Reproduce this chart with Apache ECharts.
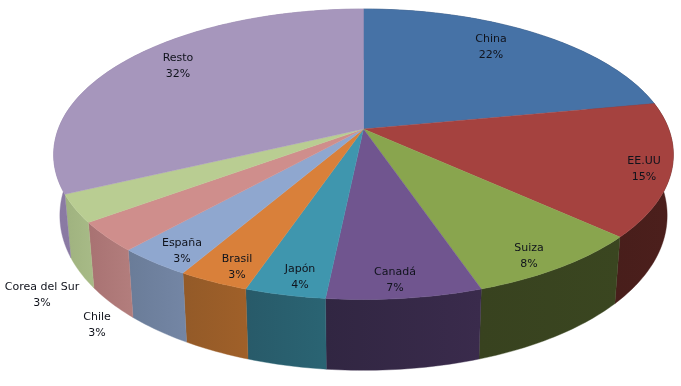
<!DOCTYPE html>
<html><head><meta charset="utf-8">
<style>html,body{margin:0;padding:0;background:#fff}#c{width:681px;height:386px}</style>
<script src="https://cdn.jsdelivr.net/npm/echarts@6/dist/echarts.min.js"></script>
</head><body><div id="c"></div>
<script>
const categories = ['China','EE.UU','Suiza','Canadá','Japón','Brasil','España','Chile','Corea del Sur','Resto'];
const shares = [22.0,14.9,8.0,6.7,3.5,3.1,3.3,3.3,3.1,32.1];

// styling (Excel 3D pie look)
const topColors = ['#4672a6','#a5423f','#89a54e','#70558f','#3f96ae','#d9803a','#8fa7cf','#cf8e8c','#b9cd92','#a696bc'];
const wallColors = [
  ['#2a4465','#2a4465'],['#4c1f1c','#481e1b'],['#3a4620','#38421f'],['#3a2b4c','#312642'],
  ['#2a6473','#285a69'],['#a06029','#935a28'],['#7486a5','#6a7c98'],['#b37e7d','#a87272'],
  ['#a8bb87','#9fb27f'],['#8e7fa6','#8a7aa3']
];
// label centre positions within the 681x386 picture
const labelSpots = [[491,47],[644,169],[529,256],[395,280],[300,277],[237,267],[182,251],[97,325],[42,295],[178,66]];

// projection of the tilted disc
const CX=363.5, CY=129, RX=305.2, RY=140, PERSP=1/6, DEPTH=59, SHRINK=0.98, FULL_X=0.035, FULL_Y=0.015;
const total = shares.reduce((a,b)=>a+b,0);
const starts = []; shares.reduce((acc,v,i)=>{starts[i]=acc;return acc+v;},0);

function rim(frac){
  const t=frac*2*Math.PI, u=Math.sin(t), v=-Math.cos(t), s=1/(1-PERSP*v), f=Math.max(v,0)*Math.max(v,0);
  return {x:RX*u*s*(1+FULL_X*f), y:RY*v*s*(1+FULL_Y*f), s};
}
function topPt(f){const p=rim(f);return [CX+p.x,CY+p.y];}
function botPt(f){const p=rim(f);return [CX+SHRINK*p.x,CY+p.y+DEPTH*p.s];}
function arc(i,fn){
  const a=starts[i]/total,b=(starts[i]+shares[i])/total,n=Math.max(6,Math.ceil((b-a)*360)),pts=[];
  for(let k=0;k<=n;k++)pts.push(fn(a+(b-a)*k/n));
  return pts;
}
const seriesData = shares.map((v,i)=>[i,v]);

const option={
  animation:false,
  backgroundColor:'#ffffff',
  series:[
    {type:'custom',coordinateSystem:'none',z:1,silent:true,data:seriesData,
     renderItem(params,api){
       const i=api.value(0);
       const up=arc(i,topPt), low=arc(i,botPt).reverse();
       const [c0,c1]=wallColors[i];
       const grad={type:'linear',x:0,y:0,x2:1,y2:0,colorStops:[{offset:0,color:c1},{offset:1,color:c0}]};
       return {type:'polygon',shape:{points:up.concat(low)},style:{fill:grad,stroke:c0,lineWidth:0.4}};
     }},
    {type:'custom',coordinateSystem:'none',z:2,silent:true,data:seriesData,
     renderItem(params,api){
       const i=api.value(0);
       return {type:'polygon',shape:{points:[[CX,CY]].concat(arc(i,topPt))},
               style:{fill:topColors[i],stroke:topColors[i],lineWidth:0.4}};
     }},
    {type:'custom',coordinateSystem:'none',z:3,silent:true,data:seriesData,
     renderItem(params,api){
       const i=api.value(0), p=Math.round(api.value(1)/total*100);
       return {type:'text',x:labelSpots[i][0],y:labelSpots[i][1],
         style:{text:categories[i]+'\n'+p+'%',align:'center',verticalAlign:'middle',
                font:'11px "DejaVu Sans"',lineHeight:16,fill:'#10131c'}};
     }}
  ]
};
echarts.init(document.getElementById('c'),null,{renderer:'canvas'}).setOption(option);
</script></body></html>
